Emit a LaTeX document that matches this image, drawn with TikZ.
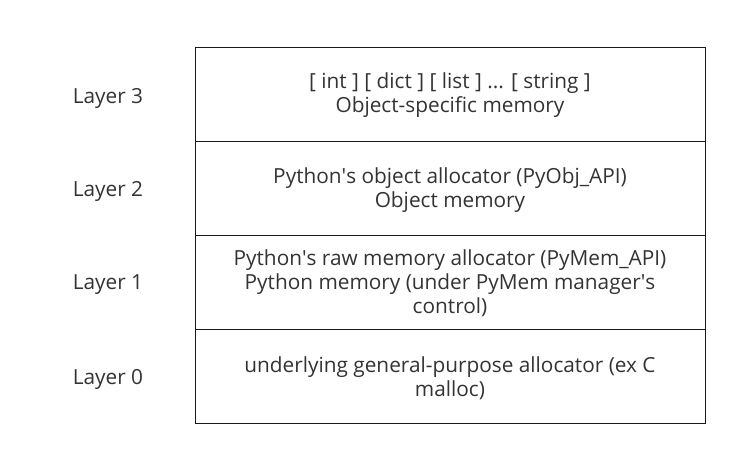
\documentclass[tikz,border=0pt]{standalone}
\usepackage{fontspec}
\setmainfont{Open Sans}
\definecolor{txt}{HTML}{333333}
\newcommand{\apos}{\textquotesingle}
\begin{document}
\begin{tikzpicture}[x=1pt,y=-1pt,
  rowbox/.style={draw=black!90,line width=1.3pt,minimum width=510pt,minimum height=94pt,inner sep=0pt,anchor=north west},
  rowtext/.style={text=txt,font=\fontsize{20.8}{24}\selectfont,align=center,inner sep=0pt},
  layer/.style={text=txt,font=\fontsize{20.8}{24}\selectfont,inner sep=0pt}]
\useasboundingbox (0,0) rectangle (737,456);
\node[rowbox] (r3) at (195,47) {};
\node[rowbox] (r2) at (195,141) {};
\node[rowbox] (r1) at (195,235) {};
\node[rowbox] (r0) at (195,329) {};
\node[rowtext] (t3) at (450,95.5) {[ int ] [ dict ] [ list ] ... [ string ]\\Object-specific memory};
\node[rowtext] (t2) at (450,190.5) {Python\apos s object allocator (PyObj\_API)\\Object memory};
\node[rowtext] (t1) at (450,283.5) {Python\apos s raw memory allocator (PyMem\_API)\\Python memory (under PyMem manager\apos s\\control)};
\node[rowtext] (t0) at (450,378.5) {underlying general-purpose allocator (ex C\\malloc)};
\node[layer] (l3) at (108,98) {Layer 3};
\node[layer] (l2) at (108,191) {Layer 2};
\node[layer] (l1) at (108,285) {Layer 1};
\node[layer] (l0) at (108,379) {Layer 0};
\end{tikzpicture}
\end{document}
